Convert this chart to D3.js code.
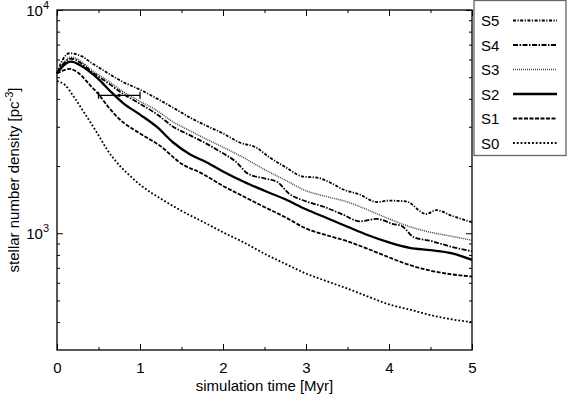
<!DOCTYPE html>
<html>
<head>
<meta charset="utf-8">
<script src="https://cdn.jsdelivr.net/npm/d3@7"></script>
<style>
  body { margin: 0; background: #fff; }
  svg { display: block; font-family: "Liberation Sans", Arial, sans-serif; }
</style>
</head>
<body>
<div class="plot"></div>
<script>

// [time in Myr, stellar number density in pc^-3]
const s0 = [[0,4800],[0.1,4600],[0.2,4100],[0.3,3600],[0.4,3150],[0.5,2750],[0.6,2380],[0.75,2020],[0.9,1780],[1.0,1650],
  [1.25,1430],[1.5,1260],[1.75,1130],[2.0,1010],[2.25,910],[2.5,810],[2.75,730],[3.0,660],[3.25,610],[3.5,565],
  [3.75,520],[4.0,480],[4.25,455],[4.5,430],[4.75,412],[5.0,400]];
const s1 = [[0,5200],[0.07,5350],[0.15,5450],[0.25,5250],[0.4,4600],[0.5,4200],[0.6,3750],[0.75,3250],[1.0,2800],
  [1.25,2450],[1.5,2050],[1.75,1850],[2.0,1630],[2.25,1460],[2.5,1310],[2.75,1180],[3.0,1050],[3.25,980],[3.5,920],
  [3.75,850],[4.0,780],[4.25,720],[4.5,680],[4.75,655],[5.0,640]];
const s2 = [[0,5200],[0.08,5650],[0.17,5870],[0.3,5600],[0.5,4900],[0.65,4300],[0.8,3820],[1.0,3400],[1.2,3000],
  [1.4,2550],[1.6,2260],[1.8,2080],[2.0,1890],[2.25,1700],[2.5,1550],[2.75,1420],[3.0,1280],[3.25,1170],[3.5,1070],
  [3.75,980],[4.0,910],[4.25,860],[4.5,840],[4.75,815],[5.0,760]];
const s3 = [[0,5200],[0.08,5800],[0.17,6150],[0.3,5850],[0.4,5450],[0.6,4850],[0.8,4300],[1.0,3900],[1.2,3550],
  [1.4,3150],[1.6,2880],[1.8,2640],[2.0,2430],[2.25,2180],[2.5,1930],[2.75,1730],[3.0,1550],[3.25,1460],[3.5,1380],
  [3.75,1270],[4.0,1160],[4.25,1070],[4.5,1010],[4.75,970],[5.0,930]];
const s4 = [[0,5200],[0.08,5750],[0.17,6050],[0.3,5750],[0.4,5350],[0.6,4750],[0.8,4200],[1.0,3800],[1.2,3420],
  [1.4,3000],[1.6,2750],[1.8,2520],[2.0,2280],[2.15,2100],[2.3,1850],[2.5,1760],[2.65,1700],[2.8,1500],[3.0,1390],
  [3.2,1320],[3.45,1210],[3.65,1130],[3.85,1160],[4.05,1100],[4.15,1080],[4.3,960],[4.5,925],[4.75,870],[5.0,830]];
const s5 = [[0,5200],[0.07,6000],[0.15,6400],[0.3,6200],[0.4,5850],[0.6,5250],[0.8,4750],[1.0,4400],[1.2,4020],
  [1.4,3650],[1.6,3300],[1.8,3030],[2.0,2800],[2.2,2550],[2.4,2420],[2.55,2200],[2.75,1980],[2.95,1800],[3.15,1770],
  [3.3,1680],[3.45,1570],[3.65,1490],[3.85,1380],[4.0,1400],[4.2,1390],[4.45,1220],[4.57,1270],[4.75,1200],[5.0,1120]];

// observed value with its age range
const obsTime = [0.5, 1.0];
const obsDensity = 4150;

const seriesNames = ["S5","S4","S3","S2","S1","S0"];
const xTicks = [0,1,2,3,4,5];
const xMinorTicks = [0.5,1.5,2.5,3.5,4.5];
const yTicks = [1000,10000];
const yMinorTicks = [400,500,600,700,800,900,2000,3000,4000,5000,6000,7000,8000,9000];

//line styles for each run
const styles = {
  S5: {dash: "3,1.5,1.2,1.5", width: 1.8, color: "#000"},
  S4: {dash: "5,1.5,1.5,1.5", width: 1.8, color: "#000"},
  S3: {dash: "1,1", width: 1.5, color: "#444"},
  S2: {dash: null, width: 2.3, color: "#000"},
  S1: {dash: "4,1.5", width: 1.8, color: "#000"},
  S0: {dash: "1.8,2", width: 1.8, color: "#000"}
};

const fontSize = 15;

document.addEventListener('DOMContentLoaded', () => {

  const width = 567, height = 399;
  const margin = {top: 10, left: 57, right: 95, bottom: 49};
  const plotWidth = width - margin.left - margin.right;
  const plotHeight = height - margin.top - margin.bottom;

  const xScale = d3.scaleLinear().domain([0, 5]).range([0, plotWidth]);
  const yScale = d3.scaleLog().domain([300, 10000]).range([plotHeight, 0]);

  const svg = d3.select('.plot').append('svg')
    .attr('width', width)
    .attr('height', height);

  const g = svg.append('g')
    .attr('transform', `translate(${margin.left},${margin.top})`);

  const data = {S0: s0, S1: s1, S2: s2, S3: s3, S4: s4, S5: s5};

  const line = d3.line()
    .x(d => xScale(d[0]))
    .y(d => yScale(d[1]))
    .curve(d3.curveMonotoneX);

  // draw lines, the solid one last so it sits on top
  ["S0","S1","S3","S4","S5","S2"].forEach(name => {
    g.append('path')
      .attr('d', line(data[name]))
      .attr('fill', 'none')
      .attr('stroke', styles[name].color)
      .attr('stroke-width', styles[name].width)
      .attr('stroke-dasharray', styles[name].dash);
  });

  //Error bar
  const ey = yScale(obsDensity);
  g.append('line')
    .attr('x1', xScale(obsTime[0])).attr('x2', xScale(obsTime[1]))
    .attr('y1', ey).attr('y2', ey)
    .attr('stroke', '#000').attr('stroke-width', 1.3);
  obsTime.forEach(t => {
    g.append('line')
      .attr('x1', xScale(t)).attr('x2', xScale(t))
      .attr('y1', ey - 3.5).attr('y2', ey + 3.5)
      .attr('stroke', '#000').attr('stroke-width', 1.3);
  });
  g.append('circle')
    .attr('cx', xScale((obsTime[0] + obsTime[1]) / 2))
    .attr('cy', ey)
    .attr('r', 1.6)
    .attr('fill', '#000');

  //Axes, ticks point inwards on all four sides
  const styleAxis = sel => {
    sel.select('.domain').remove();
    sel.selectAll('line').attr('stroke', '#000').attr('stroke-width', 1);
    sel.selectAll('text').attr('font-size', fontSize).attr('fill', '#000')
      .attr('font-family', '"Liberation Sans", Arial, sans-serif');
  };

  g.append('g')
    .attr('transform', `translate(0,${plotHeight})`)
    .call(d3.axisBottom(xScale).tickValues(xTicks).tickSize(-6).tickPadding(12).tickFormat(d3.format('d')))
    .call(styleAxis);
  g.append('g')
    .attr('transform', `translate(0,${plotHeight})`)
    .call(d3.axisBottom(xScale).tickValues(xMinorTicks).tickSize(-3).tickFormat(''))
    .call(styleAxis);
  g.append('g')
    .call(d3.axisTop(xScale).tickValues(xTicks).tickSize(-6).tickFormat(''))
    .call(styleAxis);
  g.append('g')
    .call(d3.axisTop(xScale).tickValues(xMinorTicks).tickSize(-3).tickFormat(''))
    .call(styleAxis);

  g.append('g')
    .call(d3.axisLeft(yScale).tickValues(yTicks).tickSize(-6).tickFormat(''))
    .call(styleAxis);
  g.append('g')
    .call(d3.axisLeft(yScale).tickValues(yMinorTicks).tickSize(-3).tickFormat(''))
    .call(styleAxis);
  g.append('g')
    .attr('transform', `translate(${plotWidth},0)`)
    .call(d3.axisRight(yScale).tickValues(yTicks).tickSize(-6).tickFormat(''))
    .call(styleAxis);
  g.append('g')
    .attr('transform', `translate(${plotWidth},0)`)
    .call(d3.axisRight(yScale).tickValues(yMinorTicks).tickSize(-3).tickFormat(''))
    .call(styleAxis);

  // 10^n labels with a raised exponent
  yTicks.forEach(v => {
    const t = g.append('text')
      .attr('x', -8)
      .attr('y', yScale(v) + 6)
      .attr('text-anchor', 'end')
      .attr('font-size', fontSize);
    t.append('tspan').text('10');
    t.append('tspan').attr('dy', -7).attr('font-size', 11).text(Math.round(Math.log10(v)));
  });

  //Frame
  g.append('rect')
    .attr('width', plotWidth)
    .attr('height', plotHeight)
    .attr('fill', 'none')
    .attr('stroke', '#000')
    .attr('stroke-width', 1.3);

  //Axis labels
  g.append('text')
    .attr('x', plotWidth / 2)
    .attr('y', plotHeight + 41)
    .attr('text-anchor', 'middle')
    .attr('font-size', fontSize)
    .text('simulation time [Myr]');

  const ylab = g.append('text')
    .attr('transform', 'rotate(-90)')
    .attr('x', -plotHeight / 2)
    .attr('y', -38)
    .attr('text-anchor', 'middle')
    .attr('font-size', fontSize);
  ylab.append('tspan').text('stellar number density [pc');
  ylab.append('tspan').attr('dy', -6).attr('font-size', 11).text('-3');
  ylab.append('tspan').attr('dy', 6).text(']');

  //Legend
  const legend = svg.append('g').attr('transform', 'translate(474,0)');
  legend.append('rect')
    .attr('x', 0).attr('y', 0.5)
    .attr('width', 92).attr('height', 155)
    .attr('fill', '#fff')
    .attr('stroke', '#666')
    .attr('stroke-width', 1.3);

  seriesNames.forEach((name, i) => {
    const yy = 20.5 + i * 24.5;
    legend.append('text')
      .attr('x', 7)
      .attr('y', yy + 5.5)
      .attr('font-size', fontSize)
      .text(name);
    legend.append('line')
      .attr('x1', 39).attr('x2', 83)
      .attr('y1', yy).attr('y2', yy)
      .attr('stroke', styles[name].color)
      .attr('stroke-width', styles[name].width)
      .attr('stroke-dasharray', styles[name].dash);
  });
});
</script>
</body>
</html>
